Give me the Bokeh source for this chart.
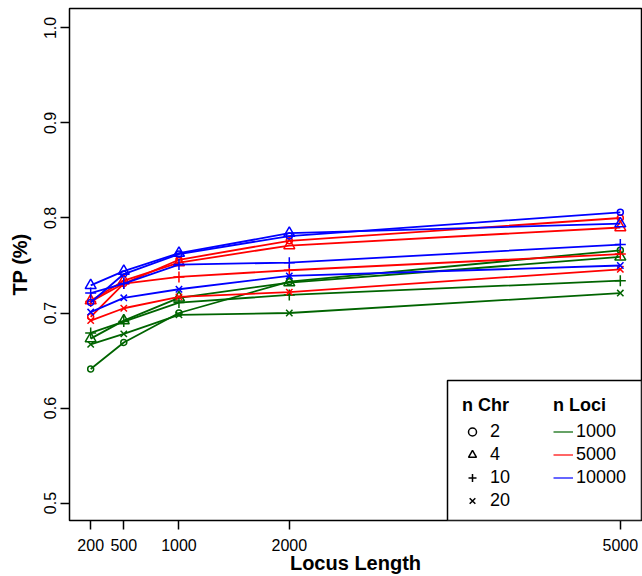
from bokeh.plotting import figure
from bokeh.models import (Range1d, FixedTicker, Legend, LegendItem, BoxAnnotation,
                          CustomJSTickFormatter)
from bokeh.embed import file_html
from bokeh.resources import INLINE

# ---- data ----
locus_length = [200, 500, 1000, 2000, 5000]
x_ticks = [200, 500, 1000, 2000, 5000]
y_ticks = [0.5, 0.6, 0.7, 0.8, 0.9, 1.0]

n_chr = ["2", "4", "10", "20"]
n_loci = ["1000", "5000", "10000"]

# n Loci = 1000 (green)
tp_1000_chr2 = [0.641, 0.669, 0.700, 0.733, 0.766]
tp_1000_chr4 = [0.673, 0.692, 0.716, 0.732, 0.759]
tp_1000_chr10 = [0.679, 0.691, 0.711, 0.719, 0.734]
tp_1000_chr20 = [0.667, 0.678, 0.698, 0.700, 0.721]
# n Loci = 5000 (red)
tp_5000_chr2 = [0.696, 0.731, 0.756, 0.776, 0.800]
tp_5000_chr4 = [0.713, 0.734, 0.753, 0.771, 0.790]
tp_5000_chr10 = [0.712, 0.731, 0.738, 0.745, 0.762]
tp_5000_chr20 = [0.692, 0.705, 0.717, 0.722, 0.746]
# n Loci = 10000 (blue)
tp_10000_chr2 = [0.711, 0.741, 0.762, 0.781, 0.806]
tp_10000_chr4 = [0.729, 0.744, 0.763, 0.784, 0.794]
tp_10000_chr10 = [0.721, 0.731, 0.751, 0.753, 0.772]
tp_10000_chr20 = [0.701, 0.716, 0.725, 0.739, 0.750]

series = {
    "1000": [tp_1000_chr2, tp_1000_chr4, tp_1000_chr10, tp_1000_chr20],
    "5000": [tp_5000_chr2, tp_5000_chr4, tp_5000_chr10, tp_5000_chr20],
    "10000": [tp_10000_chr2, tp_10000_chr4, tp_10000_chr10, tp_10000_chr20],
}

# ---- styles ----
colors = {"1000": "#006400", "5000": "#ff0000", "10000": "#0000ff"}
markers = ["circle", "triangle", "cross", "x"]
msizes = [6, 11, 11, 9]
FONT = "Liberation Sans"
NAN = float("nan")

p = figure(width=642, height=576, output_backend="svg", toolbar_location=None,
           x_range=Range1d(8, 5192), y_range=Range1d(0.4816, 1.0205),
           min_border_left=69, min_border_right=1, min_border_top=8, min_border_bottom=56)
p.background_fill_color = "white"
p.border_fill_color = "white"
p.outline_line_color = "black"
p.outline_line_width = 1.5
p.xgrid.grid_line_color = None
p.ygrid.grid_line_color = None

for ax in (p.xaxis[0], p.yaxis[0]):
    ax.axis_line_color = None
    ax.major_tick_in = 0
    ax.major_tick_out = 9
    ax.major_tick_line_color = "black"
    ax.major_tick_line_width = 1.5
    ax.minor_tick_line_color = None
    ax.major_label_text_font = FONT
    ax.major_label_text_font_size = "16px"
    ax.major_label_text_color = "black"
    ax.axis_label_text_font = FONT
    ax.axis_label_text_font_size = "20px"
    ax.axis_label_text_font_style = "bold"
    ax.axis_label_text_color = "black"

p.xaxis.ticker = FixedTicker(ticks=x_ticks)
p.yaxis.ticker = FixedTicker(ticks=y_ticks)
p.yaxis.formatter = CustomJSTickFormatter(code="return tick.toFixed(1);")
p.xaxis.axis_label = "Locus Length"
p.yaxis.axis_label = "TP (%)"
p.xaxis.major_label_standoff = 9
p.xaxis.axis_label_standoff = -2
p.yaxis.major_label_standoff = 4
p.yaxis.axis_label_standoff = 11
p.yaxis.major_label_orientation = "vertical"

for loci in n_loci:
    c = colors[loci]
    for vals, m, s in zip(series[loci], markers, msizes):
        p.line(locus_length, vals, line_color=c, line_width=1.8)
        p.scatter(locus_length, vals, marker=m, size=s, line_color=c,
                  fill_color=None, line_width=1.5)

# legend frame
box = BoxAnnotation(left=378, left_units="screen", top=140, top_units="screen",
                    fill_color="white", fill_alpha=1.0, line_color="black",
                    line_width=1.5, line_alpha=1.0)
p.add_layout(box)

chr_items = []
for lab, m in zip(n_chr, markers):
    r = p.scatter(x=[NAN], y=[NAN], marker=m, size=9, line_color="black",
                  fill_color=None, line_width=1.5)
    chr_items.append(LegendItem(label=lab, renderers=[r]))
loci_items = []
for lab in n_loci:
    r = p.line(x=[NAN, NAN], y=[NAN, NAN], line_color=colors[lab], line_width=1.2)
    loci_items.append(LegendItem(label=lab, renderers=[r]))

def style_legend(lg, gw, gh, so):
    lg.title_text_font = FONT
    lg.title_text_font_size = "18px"
    lg.title_text_font_style = "bold"
    lg.title_text_color = "black"
    lg.label_text_font = FONT
    lg.label_text_font_size = "18px"
    lg.label_text_color = "black"
    lg.glyph_width = gw
    lg.glyph_height = gh
    lg.label_height = 23
    lg.spacing = 0
    lg.padding = 0
    lg.margin = 0
    lg.label_standoff = so
    lg.title_standoff = 4
    lg.border_line_color = None
    lg.background_fill_alpha = 0

leg1 = Legend(items=chr_items, title="n Chr", location=(393, 8))
style_legend(leg1, 20, 23, 8)
leg2 = Legend(items=loci_items, title="n Loci", location=(484, 31))
style_legend(leg2, 20, 23, 3)
p.add_layout(leg1, "center")
p.add_layout(leg2, "center")

open("out.html", "w").write(file_html(p, INLINE))
